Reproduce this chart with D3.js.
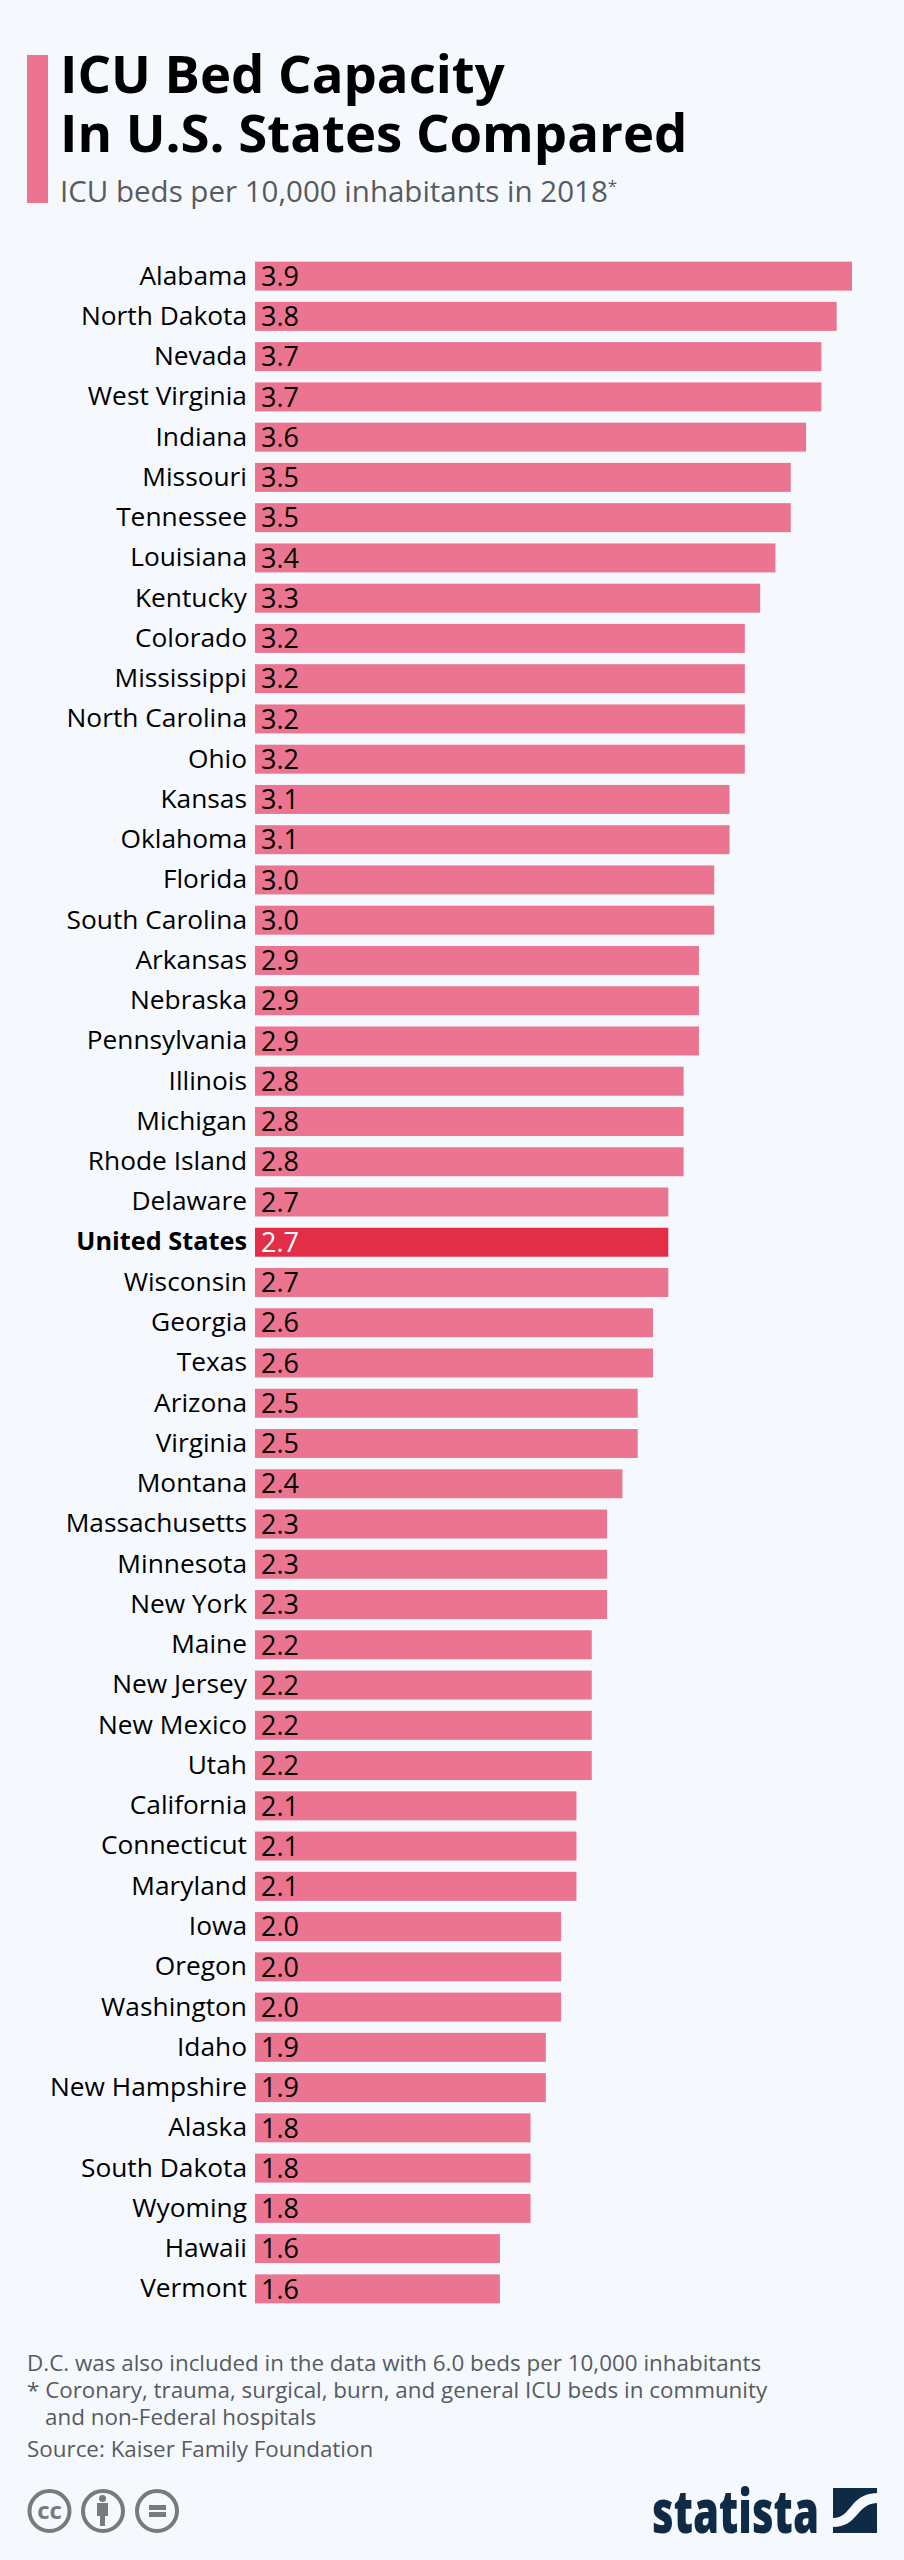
<!DOCTYPE html>
<html>
<head>
<meta charset="utf-8">
<script src="https://cdnjs.cloudflare.com/ajax/libs/d3/7.8.5/d3.min.js"></script>
<style>
  html, body { margin: 0; padding: 0; background: #f5f9fd; }
  svg { display: block; font-family: "Open Sans", sans-serif; }
  .tick line, .domain { display: none; }
</style>
</head>
<body>
<div id="chart"></div>
<script>
const states = ["Alabama","North Dakota","Nevada","West Virginia","Indiana","Missouri","Tennessee","Louisiana","Kentucky","Colorado","Mississippi","North Carolina","Ohio","Kansas","Oklahoma","Florida","South Carolina","Arkansas","Nebraska","Pennsylvania","Illinois","Michigan","Rhode Island","Delaware","United States","Wisconsin","Georgia","Texas","Arizona","Virginia","Montana","Massachusetts","Minnesota","New York","Maine","New Jersey","New Mexico","Utah","California","Connecticut","Maryland","Iowa","Oregon","Washington","Idaho","New Hampshire","Alaska","South Dakota","Wyoming","Hawaii","Vermont"];
const beds = [3.9,3.8,3.7,3.7,3.6,3.5,3.5,3.4,3.3,3.2,3.2,3.2,3.2,3.1,3.1,3.0,3.0,2.9,2.9,2.9,2.8,2.8,2.8,2.7,2.7,2.7,2.6,2.6,2.5,2.5,2.4,2.3,2.3,2.3,2.2,2.2,2.2,2.2,2.1,2.1,2.1,2.0,2.0,2.0,1.9,1.9,1.8,1.8,1.8,1.6,1.6];
const highlight = "United States";

const width = 904;
const height = 2560;

const svg = d3.select("#chart")
  .append("svg")
  .attr("width", width)
  .attr("height", height);

svg.append("rect").attr("width", width).attr("height", height).attr("fill", "#f5f9fd");

// header
svg.append("rect").attr("x", 27).attr("y", 55).attr("width", 21).attr("height", 148).attr("fill", "#eb7590");
svg.append("text").attr("x", 60).attr("y", 93).attr("font-size", 52.7).attr("font-weight", 700).attr("fill", "#000").text("ICU Bed Capacity");
svg.append("text").attr("x", 60).attr("y", 152).attr("font-size", 52.7).attr("font-weight", 700).attr("fill", "#000").text("In U.S. States Compared");
const sub = svg.append("text").attr("x", 60).attr("y", 202).attr("font-size", 29.5).attr("fill", "#575b60").text("ICU beds per 10,000 inhabitants in 2018");
sub.append("tspan").attr("font-size", 17).attr("dy", -10).text("*");

// bars
const x = d3.scaleLinear().domain([0, 3.9]).range([255, 852]);
const y = d3.scaleBand().domain(states).range([256, 2309]).paddingInner(0.28).paddingOuter(0.14);

const yAxis = d3.axisLeft(y).tickSize(0).tickPadding(8);
svg.append("g")
  .attr("transform", "translate(255,0)")
  .call(yAxis)
  .call(g => g.selectAll("text")
    .attr("font-family", "'Open Sans', sans-serif")
    .attr("font-size", d => d === highlight ? 25.3 : 26.3)
    .attr("fill", "#000")
    .attr("font-weight", d => d === highlight ? 700 : 400));

const rows = svg.append("g")
  .selectAll("g")
  .data(states)
  .enter().append("g");

rows.append("rect")
  .attr("x", x(0))
  .attr("y", d => y(d))
  .attr("width", (d, i) => x(beds[i]) - x(0))
  .attr("height", y.bandwidth())
  .attr("fill", d => d === highlight ? "#e22e47" : "#eb7590");

rows.append("text")
  .attr("x", x(0) + 6)
  .attr("y", d => y(d) + y.bandwidth() / 2)
  .attr("dy", "0.36em")
  .attr("font-size", 27)
  .attr("fill", d => d === highlight ? "#fff" : "#000")
  .text((d, i) => beds[i].toFixed(1));

// notes
const notes = [
  ["D.C. was also included in the data with 6.0 beds per 10,000 inhabitants", 27, 2371],
  ["* Coronary, trauma, surgical, burn, and general ICU beds in community", 27, 2398],
  ["and non-Federal hospitals", 45, 2425],
  ["Source: Kaiser Family Foundation", 27, 2457]
];
svg.append("g").selectAll("text").data(notes).enter().append("text")
  .attr("x", d => d[1])
  .attr("y", d => d[2])
  .attr("font-size", 22.4)
  .attr("fill", "#575b60")
  .text(d => d[0]);

// cc icons
const iconGrey = "#7a7a7a";
const icons = svg.append("g").attr("fill", "none").attr("stroke", iconGrey).attr("stroke-width", 4);
[49.5, 103, 157].forEach(cx => icons.append("circle").attr("cx", cx).attr("cy", 2511).attr("r", 20));
svg.append("text").attr("x", 49.5).attr("y", 2519).attr("text-anchor", "middle").attr("font-size", 24).attr("font-weight", 700).attr("fill", iconGrey).text("cc");
svg.append("circle").attr("cx", 102.5).attr("cy", 2498.5).attr("r", 3.5).attr("fill", iconGrey);
svg.append("path").attr("d", "M97 2503h11v13h-3v10h-5v-10h-3z").attr("fill", iconGrey);
svg.append("path").attr("d", "M149 2505h17v5h-17zM149 2512h17v5h-17z").attr("fill", iconGrey);

// statista logo
svg.append("text").attr("x", 652).attr("y", 2533).attr("font-size", 60).attr("font-weight", 800)
  .attr("fill", "#0f2a44").attr("textLength", 167).attr("lengthAdjust", "spacingAndGlyphs").text("statista");
svg.append("rect").attr("x", 833).attr("y", 2488).attr("width", 44).attr("height", 45).attr("fill", "#0f2a44");
svg.append("path").attr("d", "M833 2518C852 2518 849 2494 877 2493V2503C856 2504 858 2527 833 2527z").attr("fill", "#f5f9fd");
</script>
</body>
</html>
